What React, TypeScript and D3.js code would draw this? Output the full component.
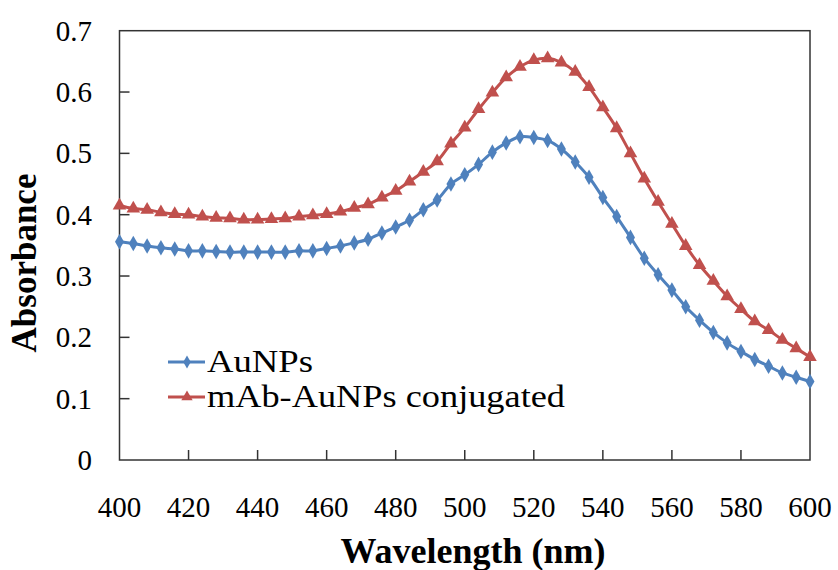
import * as d3 from 'd3';
import React, { useEffect, useRef } from 'react';

// wavelengths in nm, sampled every 4 nm
const wavelengths = [
  400, 404, 408, 412, 416, 420, 424, 428, 432, 436, 440, 444, 448,
  452, 456, 460, 464, 468, 472, 476, 480, 484, 488, 492, 496, 500,
  504, 508, 512, 516, 520, 524, 528, 532, 536, 540, 544, 548, 552,
  556, 560, 564, 568, 572, 576, 580, 584, 588, 592, 596, 600,
];

const auNPs = [
  0.356, 0.353, 0.349, 0.346, 0.344, 0.341, 0.341, 0.340, 0.339, 0.339, 0.339, 0.339, 0.339,
  0.341, 0.341, 0.345, 0.349, 0.354, 0.360, 0.370, 0.380, 0.391, 0.408, 0.424, 0.450, 0.465,
  0.482, 0.502, 0.517, 0.527, 0.526, 0.521, 0.507, 0.486, 0.461, 0.428, 0.397, 0.363, 0.329,
  0.302, 0.277, 0.250, 0.228, 0.208, 0.191, 0.177, 0.164, 0.153, 0.142, 0.135, 0.128,
];

const conjugated = [
  0.415, 0.410, 0.408, 0.404, 0.401, 0.400, 0.397, 0.395, 0.394, 0.392, 0.392, 0.393, 0.394,
  0.397, 0.399, 0.401, 0.405, 0.411, 0.417, 0.428, 0.439, 0.454, 0.470, 0.487, 0.516, 0.542,
  0.572, 0.599, 0.624, 0.641, 0.652, 0.655, 0.648, 0.633, 0.608, 0.575, 0.541, 0.500, 0.459,
  0.421, 0.385, 0.349, 0.318, 0.292, 0.267, 0.246, 0.226, 0.212, 0.196, 0.182, 0.168,
];

const xTicks = [400, 420, 440, 460, 480, 500, 520, 540, 560, 580, 600];
const yTicks = [0, 0.1, 0.2, 0.3, 0.4, 0.5, 0.6, 0.7];

const seriesNames = ['AuNPs', 'mAb-AuNPs conjugated'];

const App = () => {
  const ref = useRef<SVGSVGElement>(null);

  useEffect(() => {
    const width = 838;
    const height = 570;
    const font = '"Liberation Serif", "DejaVu Serif", serif';

    const svg = d3.select(ref.current);
    svg.selectAll('*').remove();
    svg.attr('width', width).attr('height', height);

    const x = d3.scaleLinear().domain([400, 600]).range([119.5, 810]);
    const y = d3.scaleLinear().domain([0, 0.7]).range([460, 30.7]);

    const frameColor = '#333';

    // plot frame
    svg.append('rect')
      .attr('x', x(400)).attr('y', y(0.7))
      .attr('width', x(600) - x(400)).attr('height', y(0) - y(0.7))
      .attr('fill', 'none').attr('stroke', frameColor).attr('stroke-width', 1.5);

    // inward ticks
    svg.append('g').selectAll('line')
      .data(xTicks.slice(1, -1))
      .enter().append('line')
      .attr('x1', d => x(d)).attr('x2', d => x(d))
      .attr('y1', y(0)).attr('y2', y(0) - 10)
      .attr('stroke', frameColor).attr('stroke-width', 1.5);

    svg.append('g').selectAll('line')
      .data(yTicks.slice(1, -1))
      .enter().append('line')
      .attr('x1', x(400)).attr('x2', x(400) + 10)
      .attr('y1', d => y(d)).attr('y2', d => y(d))
      .attr('stroke', frameColor).attr('stroke-width', 1.5);

    // tick labels
    svg.append('g').selectAll('text')
      .data(xTicks)
      .enter().append('text')
      .attr('x', d => x(d)).attr('y', 517)
      .attr('text-anchor', 'middle')
      .style('font-family', font).style('font-size', '29px')
      .text(d => d);

    svg.append('g').selectAll('text')
      .data(yTicks)
      .enter().append('text')
      .attr('x', 92).attr('y', d => y(d) + 10)
      .attr('text-anchor', 'end')
      .style('font-family', font).style('font-size', '29px')
      .text(d => (d === 0 ? '0' : d3.format('.1f')(d)));

    // axis titles
    svg.append('text')
      .attr('x', 473).attr('y', 563)
      .attr('text-anchor', 'middle')
      .style('font-family', font).style('font-size', '36px').style('font-weight', 'bold')
      .text('Wavelength (nm)');

    svg.append('text')
      .attr('transform', 'translate(36,263) rotate(-90)')
      .attr('text-anchor', 'middle')
      .style('font-family', font).style('font-size', '35px').style('font-weight', 'bold')
      .text('Absorbance');

    const line = d3.line<number>()
      .x((_, i) => x(wavelengths[i]))
      .y(d => y(d))
      .curve(d3.curveCatmullRom);

    const series = [
      { name: seriesNames[0], values: auNPs, color: '#4F81BD', symbol: d3.symbolDiamond, size: 70, textWidth: 106 },
      { name: seriesNames[1], values: conjugated, color: '#C0504D', symbol: d3.symbolTriangle, size: 80, textWidth: 358 },
    ];

    series.forEach(s => {
      const g = svg.append('g');
      g.append('path')
        .attr('d', line(s.values))
        .attr('fill', 'none')
        .attr('stroke', s.color)
        .attr('stroke-width', 3);

      g.selectAll('path.marker')
        .data(s.values)
        .enter().append('path')
        .attr('class', 'marker')
        .attr('transform', (d, i) => `translate(${x(wavelengths[i])},${y(d)})`)
        .attr('d', d3.symbol().type(s.symbol).size(s.size)())
        .attr('fill', s.color);
    });

    // legend
    const legend = svg.append('g');
    series.forEach((s, i) => {
      const ly = 362 + i * 35;
      legend.append('line')
        .attr('x1', 168).attr('x2', 205)
        .attr('y1', ly).attr('y2', ly)
        .attr('stroke', s.color).attr('stroke-width', 3);
      legend.append('path')
        .attr('transform', `translate(187,${ly})`)
        .attr('d', d3.symbol().type(s.symbol).size(s.size * 0.7)())
        .attr('fill', s.color);
      legend.append('text')
        .attr('x', 207).attr('y', ly + 10)
        .attr('textLength', s.textWidth)
        .attr('lengthAdjust', 'spacingAndGlyphs')
        .style('font-family', font).style('font-size', '31px')
        .text(s.name);
    });
  }, []);

  return (
    <div style={{ position: 'absolute', left: 0, top: 0 }}>
      <svg ref={ref} />
    </div>
  );
};

export default App;
